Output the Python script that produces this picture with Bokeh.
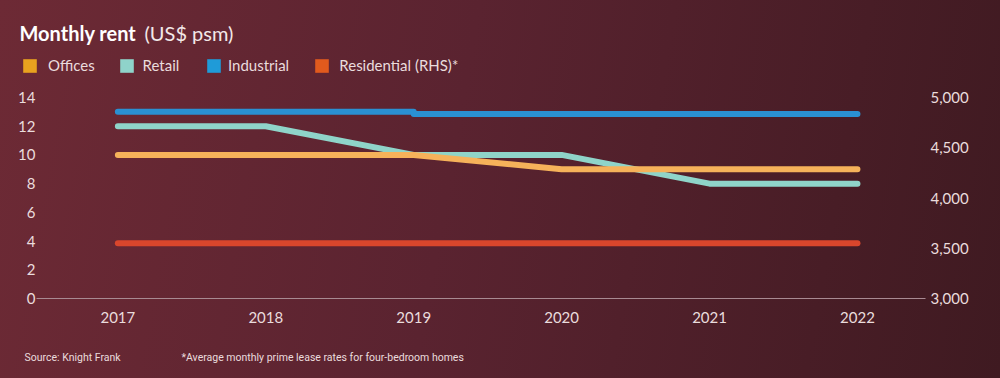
from bokeh.plotting import figure
from bokeh.layouts import column
from bokeh.models import (Range1d, LinearAxis, FixedTicker, NumeralTickFormatter,
                          Label, Legend, LegendItem)
from bokeh.embed import file_html
from bokeh.resources import INLINE

# ---- data ----
years = [2017, 2018, 2019, 2020, 2021, 2022]
year_labels = ["2017", "2018", "2019", "2020", "2021", "2022"]
offices = [10, 10, 10, 9, 9, 9]
retail = [12, 12, 10, 10, 8, 8]
industrial_years = [2017, 2018, 2019, 2019, 2020, 2021, 2022]
industrial = [13.0, 13.0, 13.0, 12.85, 12.85, 12.85, 12.85]
residential = [3550, 3550, 3550, 3550, 3550, 3550]
left_ticks = [0, 2, 4, 6, 8, 10, 12, 14]
right_ticks = [3000, 3500, 4000, 4500, 5000]

series_names = ["Offices", "Retail", "Industrial", "Residential (RHS)*"]
line_colors = ["#f6b25a", "#8fd4c9", "#2a90d2", "#d9462c"]
swatch_colors = ["#e9a21f", "#8fd3ca", "#1f9bd8", "#e15a1d"]

TEXT = "#eadcdd"
FONT = "Lato"
W = 1000
NAN = float("nan")


def bare(height):
    f = figure(width=W, height=height, output_backend="svg", toolbar_location=None,
               x_axis_type=None, y_axis_type=None,
               x_range=Range1d(0, 1), y_range=Range1d(0, 1),
               min_border=0, background_fill_alpha=0, border_fill_alpha=0,
               outline_line_color=None, frame_align=False)
    f.grid.visible = False
    return f


# ---------- header: title + legend ----------
head = bare(80)
head.add_layout(Label(x=19, y=48, x_units="screen", y_units="screen", text="Monthly rent",
                      text_font=FONT, text_font_style="bold", text_font_size="20px",
                      text_color="#ffffff", text_baseline="middle"))
head.add_layout(Label(x=144, y=48, x_units="screen", y_units="screen", text="(US$ psm)",
                      text_font=FONT, text_font_size="20px",
                      text_color="#f3e8e8", text_baseline="middle"))

legend_x = [21, 117.6, 205, 313.3]
standoffs = [10, 8, 6, 9]
for name, col, lx, so in zip(series_names, swatch_colors, legend_x, standoffs):
    # swatch-only renderer (no visible marks in the frame)
    r = head.quad(left=[NAN], right=[NAN], top=[NAN], bottom=[NAN],
                  fill_color=col, line_color=None)
    lg = Legend(items=[LegendItem(label=name, renderers=[r])], location=(lx, 6),
                orientation="horizontal", padding=0, margin=0, spacing=0,
                glyph_width=17, glyph_height=17, label_height=17, label_standoff=so,
                label_text_font=FONT, label_text_font_size="15px", label_text_color=TEXT,
                border_line_color=None, background_fill_alpha=0)
    head.add_layout(lg, "center")

# ---------- main chart ----------
p = figure(width=W, height=260, output_backend="svg", toolbar_location=None,
           x_range=Range1d(2016.45, 2022.46), y_range=Range1d(0, 14),
           min_border_left=36, min_border_right=75, min_border_top=17, min_border_bottom=42,
           background_fill_alpha=0, border_fill_alpha=0, outline_line_color=None,
           frame_align=False)
p.extra_y_ranges = {"rhs": Range1d(3000, 5000)}
p.grid.visible = False

xa = p.xaxis[0]
xa.ticker = FixedTicker(ticks=years)
xa.major_label_overrides = {y: l for y, l in zip(years, year_labels)}
xa.axis_line_color = "#a88a92"
xa.axis_line_width = 1
xa.major_tick_line_color = None
xa.minor_tick_line_color = None
xa.major_tick_out = 0
xa.major_tick_in = 0
xa.major_label_standoff = 13
xa.major_label_text_color = TEXT
xa.major_label_text_font = FONT
xa.major_label_text_font_size = "15px"

ya = p.yaxis[0]
ya.ticker = FixedTicker(ticks=left_ticks)
ya.axis_line_color = None
ya.major_tick_line_color = None
ya.minor_tick_line_color = None
ya.major_tick_out = 0
ya.major_tick_in = 0
ya.major_label_standoff = 1
ya.major_label_text_color = TEXT
ya.major_label_text_font = FONT
ya.major_label_text_font_size = "15px"

ra = LinearAxis(y_range_name="rhs", ticker=FixedTicker(ticks=right_ticks),
                formatter=NumeralTickFormatter(format="0,0"))
ra.axis_line_color = None
ra.major_tick_line_color = None
ra.minor_tick_line_color = None
ra.major_tick_out = 0
ra.major_tick_in = 0
ra.major_label_standoff = 5
ra.major_label_text_color = TEXT
ra.major_label_text_font = FONT
ra.major_label_text_font_size = "15px"
p.add_layout(ra, "right")

lw = 6
p.line(years, residential, y_range_name="rhs", line_color=line_colors[3], line_width=lw,
       line_cap="round", line_join="round")
p.line(industrial_years, industrial, line_color=line_colors[2], line_width=lw,
       line_cap="round", line_join="round")
p.line(years, retail, line_color=line_colors[1], line_width=lw, line_cap="round", line_join="round")
p.line(years, offices, line_color=line_colors[0], line_width=lw, line_cap="round", line_join="round")

# ---------- footer ----------
foot = bare(38)
foot.add_layout(Label(x=24, y=21, x_units="screen", y_units="screen", text="Source: Knight Frank",
                      text_font="Roboto", text_font_size="10.5px", text_color=TEXT,
                      text_baseline="middle"))
foot.add_layout(Label(x=181, y=21, x_units="screen", y_units="screen",
                      text="*Average monthly prime lease rates for four-bedroom homes",
                      text_font="Roboto", text_font_size="10.5px", text_color=TEXT,
                      text_baseline="middle"))

layout = column(head, p, foot, spacing=0)

html = file_html(layout, INLINE, title="Monthly rent")
style = ("<style>html,body{background:linear-gradient(100deg,#6d2a35 0%,#5a2330 45%,#3f1a21 100%);"
         "min-height:100%;}</style>")
html = html.replace("</head>", style + "</head>", 1)
open("out.html", "w").write(html)
